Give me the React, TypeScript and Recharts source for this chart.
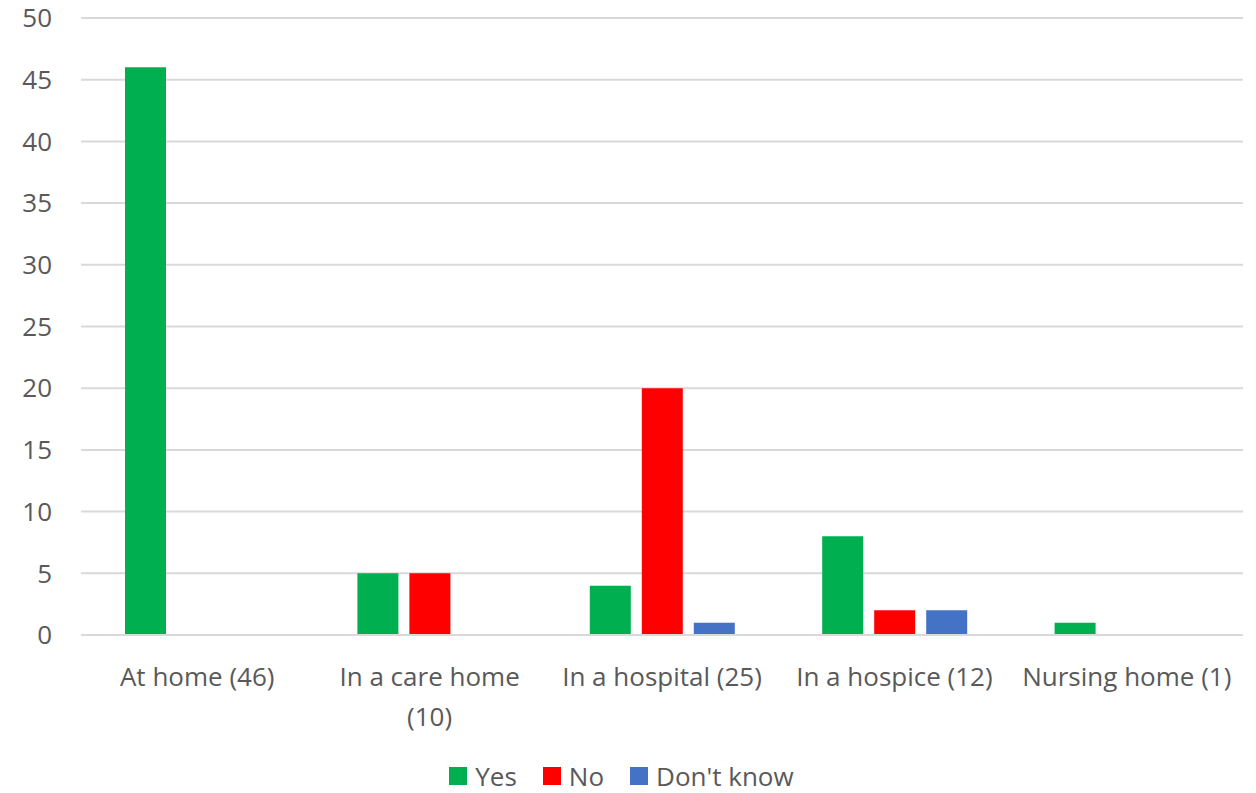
import React from 'react';
import { BarChart, Bar, XAxis, YAxis, CartesianGrid, Legend } from 'recharts';

const categories = ['At home (46)', 'In a care home (10)', 'In a hospital (25)', 'In a hospice (12)', 'Nursing home (1)'];
// how each category label is broken over lines under the axis
const tickLines = [['At home (46)'], ['In a care home', '(10)'], ['In a hospital (25)'], ['In a hospice (12)'], ['Nursing home (1)']];
const yesValues = [46, 5, 4, 8, 1];
const noValues = [0, 5, 20, 2, 0];
const dontKnowValues = [0, 0, 1, 2, 0];
const yTicks = [0, 5, 10, 15, 20, 25, 30, 35, 40, 45, 50];

const SERIES = [
  { key: 'Yes', color: '#00B050' },
  { key: 'No', color: '#FF0000' },
  { key: "Don't know", color: '#4472C4' },
];

const FONT = '"Open Sans", sans-serif';
const TEXT = '#595959';
const FS = 26;

const data = categories.map((name, i) => ({
  name,
  Yes: yesValues[i],
  No: noValues[i],
  "Don't know": dontKnowValues[i],
}));

function CategoryTick(props: any) {
  const { x, y, payload } = props;
  const lines = tickLines[categories.indexOf(payload.value)] ?? [payload.value];
  return (
    <text x={x} y={y + 43} textAnchor="middle" fill={TEXT} fontSize={FS} fontFamily={FONT}>
      {lines.map((line: string, i: number) => (
        <tspan key={i} x={x} dy={i === 0 ? 0 : 40}>
          {line}
        </tspan>
      ))}
    </text>
  );
}

function LegendContent() {
  return (
    <div
      style={{
        display: 'flex',
        justifyContent: 'center',
        alignItems: 'center',
        height: 50,
        paddingTop: 16,
        boxSizing: 'border-box',
        fontFamily: FONT,
        fontSize: FS,
        lineHeight: '28px',
        color: TEXT,
      }}
    >
      {SERIES.map((s) => (
        <span key={s.key} style={{ display: 'inline-flex', alignItems: 'center', margin: '0 13px' }}>
          <span style={{ width: 18, height: 18, background: s.color, display: 'inline-block', marginRight: 8 }} />
          {s.key}
        </span>
      ))}
    </div>
  );
}

export default function App() {
  return (
    <div style={{ position: 'absolute', left: 0, top: 0, width: 1256, height: 793, background: '#fff' }}>
      <BarChart
        width={1256}
        height={793}
        data={data}
        margin={{ top: 18, right: 13, left: 0, bottom: 0 }}
        barCategoryGap={44}
        barGap={11}
      >
        <CartesianGrid vertical={false} stroke="#d9d9d9" strokeWidth={2} />
        <XAxis
          dataKey="name"
          tick={<CategoryTick />}
          tickLine={false}
          axisLine={{ stroke: '#d9d9d9', strokeWidth: 2 }}
          height={108}
          interval={0}
        />
        <YAxis
          domain={[0, 50]}
          ticks={yTicks}
          tick={{ fill: TEXT, fontSize: FS, fontFamily: FONT }}
          tickLine={false}
          axisLine={false}
          width={81}
          tickMargin={23}
        />
        <Legend verticalAlign="bottom" height={50} content={<LegendContent />} />
        {SERIES.map((s) => (
          <Bar key={s.key} dataKey={s.key} fill={s.color} isAnimationActive={false} />
        ))}
      </BarChart>
    </div>
  );
}
